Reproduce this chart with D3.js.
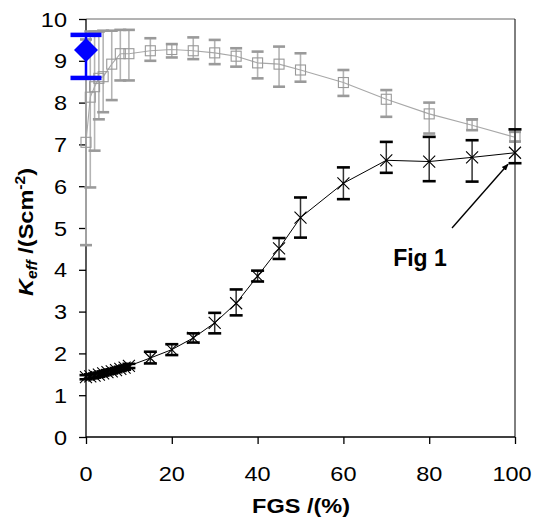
<!DOCTYPE html>
<html><head><meta charset="utf-8">
<script src="https://cdn.jsdelivr.net/npm/d3@7"></script>
<style>html,body{margin:0;padding:0;background:#fff;}svg{display:block;}</style>
</head><body>
<script>
// ---- data ----
const grayX  = [0,1,2,3,4,6,8,10,15,20,25,30,35,40,45,50,60,70,80,90,100];
const grayY  = [7.05,8.13,8.38,8.58,8.62,8.92,9.17,9.17,9.24,9.27,9.24,9.19,9.11,8.95,8.92,8.78,8.48,8.08,7.73,7.46,7.17];
const grayLo = [4.59,5.97,6.85,7.60,7.77,8.06,8.53,8.53,9.00,9.08,9.04,8.92,8.86,8.58,8.38,8.50,8.16,7.66,7.26,7.34,7.07];
const grayHi = [9.51,9.70,9.70,9.70,9.72,9.72,9.74,9.74,9.54,9.40,9.56,9.50,9.30,9.22,9.34,9.18,8.78,8.30,8.00,7.60,7.30];

const blackX  = [0,1,2,3,4,5,6,7,8,9,10,15,20,25,30,35,40,45,50,60,70,80,90,100];
const blackY  = [1.43,1.45,1.47,1.49,1.52,1.55,1.57,1.60,1.63,1.66,1.70,1.89,2.09,2.37,2.73,3.20,3.85,4.51,5.25,6.07,6.62,6.59,6.69,6.80];
const blackLo = [1.38,1.40,1.42,1.44,1.47,1.50,1.52,1.55,1.58,1.61,1.65,1.76,1.96,2.26,2.48,2.91,3.72,4.26,4.77,5.69,6.32,6.12,6.11,6.55];
const blackHi = [1.48,1.50,1.52,1.54,1.57,1.60,1.62,1.65,1.68,1.71,1.75,2.04,2.22,2.48,2.97,3.53,3.98,4.76,5.73,6.45,7.06,7.18,7.10,7.36];

const blueX  = [0];
const blueY  = [9.26];
const blueLo = [8.59];
const blueHi = [9.62];

const xTicks = [0,20,40,60,80,100];
const yTicks = [0,1,2,3,4,5,6,7,8,9,10];
const xTitle = "FGS /(%)";
const noteText = "Fig 1";
const notePoint = {x:100, y:6.55};

// ---- layout ----
const W = 537, H = 522;
const FONT = "'Liberation Sans', Arial, Helvetica, sans-serif";
const svg = d3.select("body").append("svg").attr("width", W).attr("height", H);
const x = d3.scaleLinear().domain([0,100]).range([86,515]);
const y = d3.scaleLinear().domain([0,10]).range([437,19]);

function txt(g, s, tx, ty, opts) {
  const sx = opts.sx || 1;
  const t = g.append("text")
    .attr("transform", `translate(${tx},${ty})${opts.rot?` rotate(${opts.rot})`:''} scale(${sx},1)`)
    .attr("text-anchor", opts.anchor || "middle")
    .attr("font-family", FONT)
    .attr("font-size", opts.size || 20)
    .attr("font-weight", opts.bold ? "bold" : "normal")
    .attr("fill", "#000");
  if (s !== null) t.text(s);
  return t;
}

// frame
svg.append("line").attr("x1", x(0)).attr("x2", x(100)).attr("y1", y(10)).attr("y2", y(10))
  .attr("stroke", "#666").attr("stroke-width", 1);
svg.append("line").attr("x1", x(100)).attr("x2", x(100)).attr("y1", y(10)).attr("y2", y(0))
  .attr("stroke", "#000").attr("stroke-width", 1);

// axes
const xAxis = svg.append("g").attr("transform", `translate(0,${y(0)})`)
  .call(d3.axisBottom(x).tickValues(xTicks).tickSize(7).tickFormat(""));
const yAxis = svg.append("g").attr("transform", `translate(${x(0)},0)`)
  .call(d3.axisLeft(y).tickValues(yTicks).tickSize(7).tickFormat(""));
[xAxis, yAxis].forEach(a => {
  a.select(".domain").attr("stroke", "#000").attr("stroke-width", 1.3);
  a.selectAll(".tick line").attr("stroke", "#000").attr("stroke-width", 1.3);
});
xAxis.select(".domain").attr("d", `M${x(0)},0H${x(100)}`);
yAxis.select(".domain").attr("d", `M0,${y(0)}V${y(10)}`);

// tick labels
const lab = svg.append("g");
xTicks.forEach(v => txt(lab, String(v), x(v) - (v === 100 ? 3 : 0), 481, {size:21, sx:1.12}));
yTicks.forEach(v => txt(lab, String(v), 67, y(v) + 7.5, {size:21, sx:1.12, anchor:"end"}));

// titles
txt(svg, xTitle, 301, 513, {size:21, bold:true, sx:1.12});
const yt = txt(svg, null, 33, 232, {size:21, bold:true, rot:-90, sx:1.12});
yt.append("tspan").attr("font-style", "italic").text("K");
yt.append("tspan").attr("font-style", "italic").attr("font-size", 14).attr("dy", 4).text("eff");
yt.append("tspan").attr("dy", -4).text(" /(Scm");
yt.append("tspan").attr("font-size", 14).attr("dy", -8).text("-2");
yt.append("tspan").attr("dy", 8).text(")");

// ---- gray series ----
const gi = d3.range(grayX.length);
const gg = svg.append("g");
gg.selectAll("line.v").data(gi).join("line")
  .attr("x1", i => x(grayX[i])).attr("x2", i => x(grayX[i]))
  .attr("y1", i => y(grayLo[i])).attr("y2", i => y(grayHi[i]))
  .attr("stroke", "#b4b4b4").attr("stroke-width", 1.6);
["Lo","Hi"].forEach(k => {
  const arr = k === "Lo" ? grayLo : grayHi;
  gg.selectAll("line.c" + k).data(gi).join("line")
    .attr("x1", i => x(grayX[i]) - 6).attr("x2", i => x(grayX[i]) + 6)
    .attr("y1", i => y(arr[i])).attr("y2", i => y(arr[i]))
    .attr("stroke", "#9a9a9a").attr("stroke-width", 2.6);
});
gg.append("path").datum(gi)
  .attr("d", d3.line().x(i => x(grayX[i])).y(i => y(grayY[i])))
  .attr("fill", "none").attr("stroke", "#a8a8a8").attr("stroke-width", 1.1);
gg.selectAll("rect").data(gi).join("rect")
  .attr("x", i => x(grayX[i]) - 5).attr("y", i => y(grayY[i]) - 5)
  .attr("width", 10).attr("height", 10)
  .attr("fill", "none").attr("stroke", "#999").attr("stroke-width", 1.1);

// ---- black series ----
const bi = d3.range(blackX.length);
const bg = svg.append("g");
bg.selectAll("line.v").data(bi).join("line")
  .attr("x1", i => x(blackX[i])).attr("x2", i => x(blackX[i]))
  .attr("y1", i => y(blackLo[i])).attr("y2", i => y(blackHi[i]))
  .attr("stroke", "#333").attr("stroke-width", 1.5);
["Lo","Hi"].forEach(k => {
  const arr = k === "Lo" ? blackLo : blackHi;
  bg.selectAll("line.c" + k).data(bi).join("line")
    .attr("x1", i => x(blackX[i]) - 6.5).attr("x2", i => x(blackX[i]) + 6.5)
    .attr("y1", i => y(arr[i])).attr("y2", i => y(arr[i]))
    .attr("stroke", "#000").attr("stroke-width", 2.6);
});
bg.append("path").datum(bi)
  .attr("d", d3.line().x(i => x(blackX[i])).y(i => y(blackY[i])))
  .attr("fill", "none").attr("stroke", "#000").attr("stroke-width", 1);
bg.selectAll("path.m").data(bi).join("path").attr("class", "m")
  .attr("d", i => {
    const cx = x(blackX[i]), cy = y(blackY[i]), r = 6;
    return `M${cx-r},${cy-r}L${cx+r},${cy+r}M${cx-r},${cy+r}L${cx+r},${cy-r}`;
  })
  .attr("stroke", "#000").attr("stroke-width", 1.1).attr("fill", "none");

// ---- blue point ----
const ui = d3.range(blueX.length);
const ug = svg.append("g");
ug.selectAll("line.v").data(ui).join("line")
  .attr("x1", i => x(blueX[i])).attr("x2", i => x(blueX[i]))
  .attr("y1", i => y(blueLo[i])).attr("y2", i => y(blueHi[i]))
  .attr("stroke", "#0000ff").attr("stroke-width", 2.5);
[blueLo, blueHi].forEach(arr => {
  ug.selectAll(null).data(ui).join("line")
    .attr("x1", i => x(blueX[i]) - 15.5).attr("x2", i => x(blueX[i]) + 15.5)
    .attr("y1", i => y(arr[i])).attr("y2", i => y(arr[i]))
    .attr("stroke", "#0000ff").attr("stroke-width", 4.5);
});
ug.selectAll("path").data(ui).join("path")
  .attr("d", i => {
    const cx = x(blueX[i]), cy = y(blueY[i]), r = 12;
    return `M${cx},${cy-r}L${cx+r},${cy}L${cx},${cy+r}L${cx-r},${cy}Z`;
  })
  .attr("fill", "#0000ff");

// ---- annotation ----
const defs = svg.append("defs");
defs.append("marker").attr("id", "ah").attr("viewBox", "0 0 10 10")
  .attr("refX", 9).attr("refY", 5).attr("markerWidth", 7).attr("markerHeight", 7)
  .attr("markerUnits", "userSpaceOnUse").attr("orient", "auto")
  .append("path").attr("d", "M0,1L10,5L0,9Z").attr("fill", "#000");
svg.append("line")
  .attr("x1", 452).attr("y1", 228)
  .attr("x2", x(notePoint.x) - 7).attr("y2", y(notePoint.y) + 1)
  .attr("stroke", "#000").attr("stroke-width", 1.4).attr("marker-end", "url(#ah)");
txt(svg, noteText, 420, 266, {size:23, bold:true});
</script>
</body></html>
